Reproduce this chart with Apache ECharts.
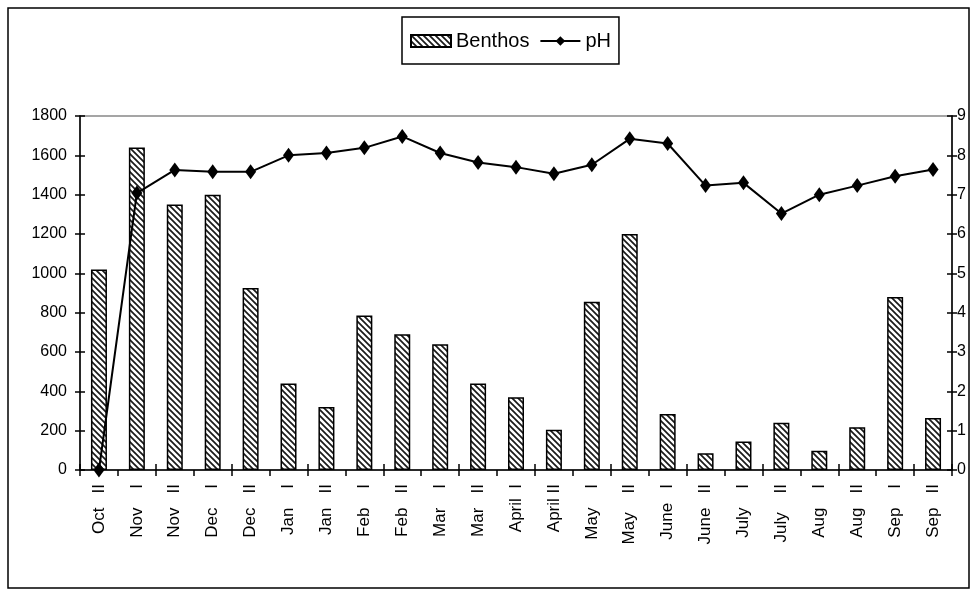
<!DOCTYPE html>
<html>
<head>
<meta charset="utf-8">
<script src="https://cdn.jsdelivr.net/npm/echarts@6/dist/echarts.min.js"></script>
<style>
  html, body { margin: 0; padding: 0; background: #fff; }
  #chart { width: 974px; height: 595px; }
</style>
</head>
<body>
<div id="chart"></div>
<script>
// Sampling periods (month + fortnight)
const categories = [
  'Oct   II', 'Nov    I', 'Nov   II', 'Dec    I', 'Dec   II', 'Jan    I', 'Jan   II',
  'Feb    I', 'Feb   II', 'Mar    I', 'Mar   II', 'April  I', 'April II', 'May    I',
  'May    II', 'June   I', 'June   II', 'July    I', 'July    II', 'Aug    I', 'Aug   II',
  'Sep    I', 'Sep   II'
];

// Benthos counts (left axis)
const benthos = [1020, 1640, 1350, 1400, 925, 440, 320, 785, 690, 640, 440, 370, 205,
                 855, 1200, 285, 85, 145, 240, 98, 218, 880, 265];

// pH (right axis)
const ph = [0, 7.04, 7.63, 7.58, 7.58, 8.0, 8.06, 8.19, 8.48, 8.06, 7.82, 7.70, 7.53,
            7.76, 8.42, 8.30, 7.23, 7.30, 6.52, 7.0, 7.23, 7.47, 7.64];

// Axis ranges: [min, max, interval]
const leftAxisRange = [0, 1800, 200];
const rightAxisRange = [0, 9, 1];

function hasFont(name) {
  const ctx = document.createElement('canvas').getContext('2d');
  const probe = 'Benthos 1400 pH';
  ctx.font = '40px monospace';
  const base = ctx.measureText(probe).width;
  ctx.font = "40px '" + name + "', monospace";
  return ctx.measureText(probe).width !== base;
}
const narrow = hasFont('Liberation Sans Narrow');
const narrowFamily = narrow ? "'Liberation Sans Narrow', 'Liberation Sans', Arial, sans-serif"
                            : "'Liberation Sans', Arial, sans-serif";
const tickFont = narrow ? 20 : 16;
const legendFont = narrow ? 24 : 20;

// Diagonal hatch fill for the bars
function hatchPattern() {
  const s = 6;
  const c = document.createElement('canvas');
  c.width = s; c.height = s;
  const g = c.getContext('2d');
  g.fillStyle = '#fff';
  g.fillRect(0, 0, s, s);
  g.strokeStyle = '#1a1a1a';
  g.lineWidth = 1.7;
  g.beginPath();
  g.moveTo(-1, -1); g.lineTo(s + 1, s + 1);
  g.moveTo(-s - 1, -1); g.lineTo(1, s + 1);
  g.moveTo(s - 1, -1); g.lineTo(2 * s + 1, s + 1);
  g.stroke();
  return c;
}
const hatch = { image: hatchPattern(), repeat: 'repeat' };

const axisLineStyle = { color: '#000', width: 1.5 };
const tickStyle = { color: '#000', width: 1.5 };

function valueAxis(range, position, inside) {
  return {
    type: 'value',
    position: position,
    min: range[0], max: range[1], interval: range[2],
    axisLine: { show: !inside, lineStyle: axisLineStyle },
    axisTick: { show: true, inside: inside, length: 5, lineStyle: tickStyle },
    axisLabel: {
      show: !inside,
      margin: position === 'left' ? 13 : 5,
      color: '#000',
      fontSize: tickFont,
      fontFamily: narrowFamily,
      formatter: function (v) { return String(v); }
    },
    splitLine: { show: false }
  };
}

const chart = echarts.init(document.getElementById('chart'), null, { renderer: 'canvas' });

chart.setOption({
  animation: false,
  backgroundColor: '#fff',
  graphic: [{
    type: 'rect',
    shape: { x: 8, y: 8, width: 961, height: 580 },
    style: { fill: 'none', stroke: '#000', lineWidth: 1.5 },
    silent: true,
    z: -1
  }],
  legend: {
    data: [{ name: 'Benthos', icon: 'rect' }, { name: 'pH' }],
    left: 402,
    top: 17,
    orient: 'horizontal',
    backgroundColor: '#fff',
    borderColor: '#000',
    borderWidth: 1.5,
    borderRadius: 0,
    padding: [14, 8, 13, 8],
    itemWidth: 40,
    itemHeight: 12,
    itemGap: 10,
    textStyle: { color: '#000', fontSize: legendFont, fontFamily: narrowFamily }
  },
  grid: {
    left: 80, right: 22, top: 116, bottom: 125,
    show: true,
    borderColor: '#888',
    borderWidth: 1.5,
    containLabel: false
  },
  xAxis: [
    {
      type: 'category',
      data: categories,
      boundaryGap: true,
      axisLine: { show: true, lineStyle: axisLineStyle },
      axisTick: { show: true, length: 6, lineStyle: tickStyle },
      axisLabel: {
        rotate: 90,
        margin: 14,
        interval: 0,
        color: '#000',
        fontSize: 17,
        fontFamily: "'Liberation Sans', Arial, sans-serif"
      },
      splitLine: { show: false }
    },
    {
      type: 'category',
      data: categories,
      position: 'bottom',
      boundaryGap: true,
      axisLine: { show: false },
      axisTick: { show: true, inside: true, length: 6, lineStyle: tickStyle },
      axisLabel: { show: false },
      splitLine: { show: false }
    }
  ],
  yAxis: [
    valueAxis(leftAxisRange, 'left', false),
    valueAxis(rightAxisRange, 'right', false),
    valueAxis(leftAxisRange, 'left', true),
    valueAxis(rightAxisRange, 'right', true)
  ],
  series: [
    {
      name: 'Benthos',
      type: 'bar',
      xAxisIndex: 0,
      yAxisIndex: 0,
      data: benthos,
      barWidth: 16,
      itemStyle: { color: hatch, borderColor: '#000', borderWidth: 1.5 },
      z: 2
    },
    {
      name: 'pH',
      type: 'line',
      xAxisIndex: 0,
      yAxisIndex: 1,
      data: ph,
      symbol: 'diamond',
      symbolSize: [11, 15],
      showSymbol: true,
      lineStyle: { color: '#000', width: 2 },
      itemStyle: { color: '#000' },
      z: 5
    }
  ]
});
</script>
</body>
</html>
